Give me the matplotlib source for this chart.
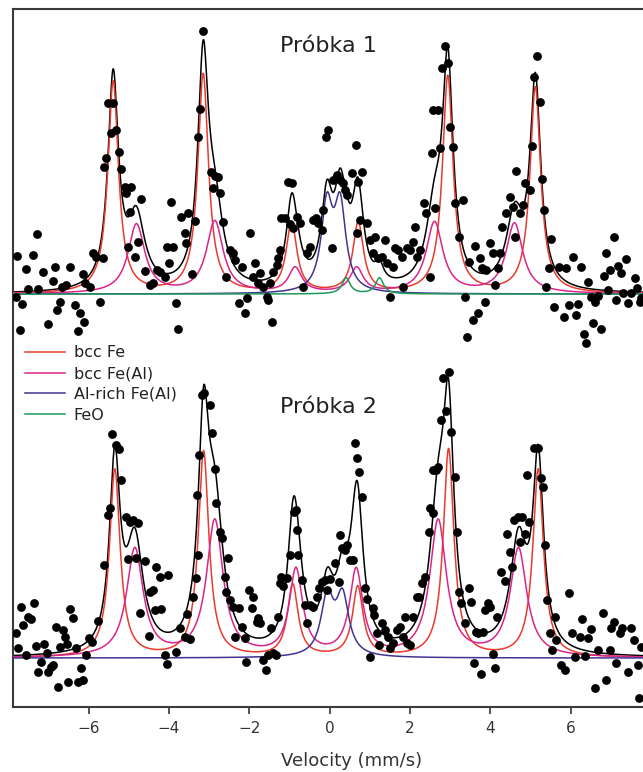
import numpy as np
import matplotlib
matplotlib.use("Agg")
import matplotlib.pyplot as plt

# measured points (velocity mm/s, absorption a.u. above baseline)
vel1 = [-7.82, -7.78, -7.70, -7.65, -7.57, -7.51, -7.39, -7.29, -7.26, -7.14, -7.01, -6.90, -6.85, -6.79,
        -6.72, -6.66, -6.56, -6.47, -6.35, -6.27, -6.22, -6.14, -6.12, -6.08, -5.96, -5.89, -5.81, -5.73,
        -5.64, -5.63, -5.56, -5.52, -5.44, -5.39, -5.31, -5.24, -5.19, -5.10, -5.06, -5.02, -4.98, -4.94,
        -4.85, -4.77, -4.69, -4.61, -4.48, -4.40, -4.31, -4.23, -4.11, -4.05, -4.00, -3.94, -3.90, -3.82,
        -3.78, -3.69, -3.61, -3.57, -3.53, -3.44, -3.36, -3.28, -3.24, -3.15, -2.95, -2.90, -2.86, -2.78,
        -2.74, -2.66, -2.57, -2.48, -2.40, -2.36, -2.27, -2.19, -2.11, -2.07, -1.98, -1.90, -1.86, -1.78,
        -1.74, -1.65, -1.57, -1.53, -1.49, -1.44, -1.40, -1.32, -1.28, -1.24, -1.20, -1.11, -1.03, -0.99,
        -0.95, -0.91, -0.82, -0.74, -0.66, -0.56, -0.49, -0.41, -0.33, -0.28, -0.20, -0.16, -0.09, -0.03,
        0.05, 0.09, 0.17, 0.26, 0.34, 0.38, 0.42, 0.55, 0.66, 0.67, 0.71, 0.75, 0.80, 0.92, 1.00, 1.09,
        1.13, 1.21, 1.29, 1.38, 1.42, 1.50, 1.58, 1.63, 1.71, 1.79, 1.83, 1.92, 2.00, 2.07, 2.12, 2.17,
        2.25, 2.35, 2.41, 2.50, 2.54, 2.58, 2.63, 2.70, 2.74, 2.80, 2.88, 2.94, 2.99, 3.07, 3.11, 3.21,
        3.32, 3.38, 3.43, 3.48, 3.57, 3.61, 3.69, 3.73, 3.78, 3.86, 3.90, 3.98, 4.07, 4.11, 4.19, 4.23,
        4.29, 4.40, 4.48, 4.56, 4.62, 4.65, 4.73, 4.81, 4.87, 4.98, 5.04, 5.09, 5.16, 5.24, 5.28, 5.34,
        5.39, 5.45, 5.52, 5.58, 5.72, 5.83, 5.89, 5.97, 6.06, 6.14, 6.18, 6.26, 6.33, 6.39, 6.43, 6.51,
        6.55, 6.60, 6.68, 6.76, 6.82, 6.89, 6.93, 6.99, 7.08, 7.14, 7.19, 7.24, 7.30, 7.38, 7.43, 7.51,
        7.61, 7.66, 7.72, 7.76]
abs1 = [-0.3, 3.8, -3.6, -1.0, 2.5, 0.5, 3.9, 6.0, 0.5, 2.2, -3.0, 1.3, 2.7, -1.6,
        -0.8, 0.7, 0.9, 2.7, -1.1, -3.7, -1.9, 2.0, -2.8, 1.1, 0.7, 4.1, 3.7, -0.8,
        3.6, 12.7, 13.6, 19.1, 16.1, 19.1, 16.4, 14.2, 12.5, 10.7, 10.1, 4.7, 8.2, 10.7,
        3.7, 5.2, 9.5, 2.3, 0.9, 1.1, 2.4, 2.2, 1.7, 4.7, 3.1, 9.2, 4.7, -0.9,
        -3.5, 7.7, 6.1, 5.1, 8.1, 2.0, 7.3, 15.7, 18.5, 26.3, 12.2, 10.6, 11.8, 11.7,
        10.1, 7.2, 1.7, 4.4, 4.1, 3.4, -0.9, 2.7, -1.9, -0.4, 6.1, 1.7, 3.1, 1.1,
        2.1, 0.7, -0.3, -0.6, 1.1, -2.8, 2.2, 2.9, 3.6, 4.4, 7.6, 7.6, 11.2, 7.0,
        11.1, 6.6, 7.7, 7.1, 0.7, 4.1, 4.7, 7.4, 7.6, 7.1, 6.4, 8.4, 15.7, 16.4,
        4.6, 11.4, 11.9, 11.4, 11.1, 10.4, 9.9, 12.1, 14.9, 6.1, 11.2, 7.4, 12.2, 7.1, 5.4, 4.1,
        5.7, 3.6, 3.7, 5.4, 3.1, -0.3, 2.7, 4.6, 4.4, 3.7, 0.7, 4.6, 4.4, 5.2, 6.7, 3.7,
        4.4, 9.1, 8.1, 1.7, 14.1, 18.4, 8.6, 18.4, 14.6, 22.6, 24.8, 23.1, 16.7, 14.7, 9.1, 5.7,
        9.4, -0.3, -4.3, 3.2, -2.6, 4.8, -1.9, 3.6, 2.6, -0.8, 2.4, 5.1, 4.1, 0.9, 2.6, 4.1,
        6.7, 8.1, 9.7, 8.7, 5.7, 12.3, 8.1, 8.9, 11.1, 10.4, 14.8, 21.7, 23.8, 19.2, 11.5, 8.4,
        0.7, 2.6, 5.5, -1.3, 2.7, -2.3, 2.6, -1.1, 3.7, -2.1, -1.0, 2.7, -4.0, -4.9, 1.2, -0.3,
        -2.9, -0.8, -0.2, -3.5, 1.8, 4.1, 0.4, 2.4, 5.7, -0.6, 2.8, 2.1, 0.1, 3.5, -0.9, 0.1,
        1.6, 0.6, -0.8, -0.4]

vel2 = [-7.80, -7.76, -7.68, -7.64, -7.55, -7.51, -7.43, -7.37, -7.32, -7.26, -7.18, -7.10, -7.05, -7.01,
        -6.93, -6.89, -6.82, -6.76, -6.71, -6.64, -6.60, -6.54, -6.51, -6.46, -6.39, -6.31, -6.27, -6.20,
        -6.14, -6.06, -5.98, -5.91, -5.77, -5.63, -5.52, -5.48, -5.41, -5.33, -5.25, -5.19, -5.06, -5.02,
        -4.96, -4.90, -4.81, -4.77, -4.73, -4.61, -4.48, -4.50, -4.40, -4.36, -4.32, -4.23, -4.19, -4.11,
        -4.05, -4.03, -3.83, -3.73, -3.61, -3.55, -3.48, -3.40, -3.34, -3.31, -3.28, -3.25, -3.19, -3.14,
        -2.99, -2.92, -2.86, -2.84, -2.74, -2.67, -2.61, -2.58, -2.52, -2.48, -2.40, -2.36, -2.27, -2.19,
        -2.11, -2.08, -2.00, -1.94, -1.90, -1.82, -1.78, -1.74, -1.65, -1.59, -1.53, -1.47, -1.40, -1.34,
        -1.28, -1.24, -1.20, -1.15, -1.07, -0.99, -0.89, -0.84, -0.82, -0.78, -0.70, -0.62, -0.56, -0.49,
        -0.41, -0.32, -0.26, -0.20, -0.12, -0.06, 0.01, 0.13, 0.22, 0.26, 0.30, 0.38, 0.42, 0.51,
        0.59, 0.63, 0.67, 0.74, 0.80, 0.88, 0.94, 1.00, 1.07, 1.10, 1.17, 1.24, 1.29, 1.38,
        1.46, 1.50, 1.58, 1.67, 1.75, 1.82, 1.88, 1.92, 2.00, 2.07, 2.17, 2.23, 2.29, 2.37,
        2.46, 2.50, 2.56, 2.58, 2.65, 2.70, 2.78, 2.82, 2.90, 2.96, 3.03, 3.11, 3.18, 3.21,
        3.26, 3.36, 3.46, 3.51, 3.59, 3.65, 3.69, 3.76, 3.82, 3.87, 3.94, 3.98, 4.07, 4.11,
        4.17, 4.26, 4.36, 4.42, 4.48, 4.54, 4.60, 4.69, 4.73, 4.80, 4.85, 4.92, 4.96, 5.09,
        5.19, 5.25, 5.31, 5.37, 5.42, 5.48, 5.53, 5.60, 5.64, 5.77, 5.85, 5.97, 6.03, 6.10,
        6.22, 6.28, 6.35, 6.43, 6.51, 6.60, 6.68, 6.80, 6.89, 6.97, 7.01, 7.08, 7.14, 7.22,
        7.28, 7.43, 7.51, 7.58, 7.68, 7.70, 7.76]
abs2 = [2.5, 1.0, 5.1, 3.3, 0.3, 4.1, 3.9, 5.5, 1.2, -1.4, -0.4, 1.4, 0.5, -1.4,
        -0.9, -0.7, 3.1, -2.9, 1.1, 2.8, 2.1, 1.4, -2.4, 4.9, 4.0, 1.0, -2.4, -1.0,
        -2.2, 0.3, 2.0, 1.6, 3.7, 9.3, 14.3, 15.0, 22.4, 21.3, 20.9, 17.8, 14.1, 9.9,
        13.6, 13.8, 10.0, 13.5, 4.5, 9.7, 6.6, 2.2, 6.8, 4.8, 9.1, 8.1, 4.9, 0.3,
        -0.6, 8.3, 0.6, 3.0, 2.1, 4.4, 1.9, 6.1, 8.0, 16.3, 10.3, 20.3, 26.3, 26.5,
        25.3, 22.5, 18.9, 15.5, 12.6, 12.0, 8.1, 6.6, 10.0, 5.8, 5.1, 2.1, 5.0, 3.1,
        2.0, -0.4, 6.8, 5.0, 6.1, 3.6, 4.0, 3.5, -0.2, -1.2, 0.3, 3.0, 0.5, 0.3,
        4.1, 7.5, 8.1, 7.2, 8.0, 10.3, 14.6, 14.8, 12.8, 10.3, 7.8, 5.3, 3.5, 5.3,
        5.1, 6.1, 7.0, 7.6, 7.8, 6.8, 7.9, 9.5, 7.6, 12.3, 11.0, 10.8, 11.3, 9.8,
        9.8, 21.5, 20.0, 18.6, 16.1, 7.0, 5.9, 0.1, 5.0, 4.3, 2.5, 1.3, 3.5, 2.8,
        2.1, 1.0, 1.5, 2.8, 3.1, 2.1, 4.1, 1.5, 1.3, 4.1, 6.1, 6.1, 7.5, 8.1,
        12.6, 15.0, 14.5, 18.8, 18.8, 19.1, 23.8, 28.0, 24.7, 28.6, 22.6, 18.1, 12.6, 6.6,
        5.5, 3.5, 7.0, 5.6, -0.5, 2.6, 2.5, -1.6, 2.6, 4.8, 5.5, 5.1, 0.4, -1.0,
        4.1, 8.6, 7.7, 12.4, 10.6, 9.1, 13.8, 14.1, 11.6, 14.1, 12.4, 18.3, 13.6, 21.0,
        21.0, 18.0, 17.1, 11.3, 5.8, 2.5, 0.8, 4.1, 1.8, -0.7, -1.2, 6.5, 2.5, 0.1,
        2.1, 3.9, 0.2, 2.0, 2.9, -3.0, 0.8, 4.5, -2.2, 0.8, 3.0, 3.6, -0.5, 2.5,
        3.0, -1.4, 3.0, 1.8, -0.7, -4.0, 1.1]

# fitted sub-spectra: line positions, depths, half widths
s1_fe_pos = [-5.39, -3.15, -0.95, 0.71, 2.94, 5.12]
s1_fe_amp = [21.2, 21.9, 7.0, 7.0, 21.7, 20.6]
s1_feal_pos = [-4.81, -2.86, -0.86, 0.67, 2.61, 4.60]
s1_feal_amp = [6.9, 7.2, 2.5, 2.5, 7.1, 7.0]
s1_alrich_pos = [-0.07, 0.26]
s1_alrich_amp = [8.4, 8.4]
s1_feo_pos = [0.41, 1.24]
s1_feo_amp = [1.6, 1.6]

s2_fe_pos = [-5.35, -3.14, -0.92, 0.70, 2.96, 5.19]
s2_fe_amp = [18.8, 20.6, 7.2, 7.0, 20.8, 18.8]
s2_feal_pos = [-4.85, -2.86, -0.84, 0.66, 2.70, 4.70]
s2_feal_amp = [10.8, 13.6, 8.6, 8.6, 13.6, 10.8]
s2_alrich_pos = [-0.06, 0.32]
s2_alrich_amp = [5.8, 5.8]

fe_hw = 0.16
feal_hw = [0.25, 0.25, 0.2, 0.2, 0.25, 0.25]
alrich_hw = [0.17, 0.19]
feo_hw = 0.12

offset1 = 36.4   # vertical shift of Próbka 1

labels = ["bcc Fe", "bcc Fe(Al)", "Al-rich Fe(Al)", "FeO"]
colors = ["#ea3a2e", "#d9258a", "#41348f", "#1c9a5c"]

v = np.linspace(-7.9, 7.9, 1600)


def lines(pos, amp, hw):
    hw = np.broadcast_to(hw, len(pos))
    out = np.zeros_like(v)
    for p, a, w in zip(pos, amp, hw):
        out += a / (1 + ((v - p) / w) ** 2)
    return out


c1 = [lines(s1_fe_pos, s1_fe_amp, fe_hw),
      lines(s1_feal_pos, s1_feal_amp, feal_hw),
      lines(s1_alrich_pos, s1_alrich_amp, alrich_hw[0]),
      lines(s1_feo_pos, s1_feo_amp, feo_hw)]
c2 = [lines(s2_fe_pos, s2_fe_amp, fe_hw),
      lines(s2_feal_pos, s2_feal_amp, feal_hw),
      lines(s2_alrich_pos, s2_alrich_amp, alrich_hw[1])]

fig = plt.figure(figsize=(6.43, 7.72), dpi=100)
ax = fig.add_axes([13 / 643, 65 / 772, 1 - 13 / 643, 698 / 772])

ax.plot(v, sum(c1) + offset1, color="black", lw=1.1, zorder=2)
ax.plot(v, sum(c2), color="black", lw=1.1, zorder=2)
for comp, col in zip(c1, colors):
    ax.plot(v, comp + offset1, color=col, lw=1.1, zorder=3)
for comp, col, lab in zip(c2, colors, labels):
    ax.plot(v, comp, color=col, lw=1.1, zorder=3, label=lab)
ax.plot([], [], color=colors[3], lw=1.1, label=labels[3])

ax.scatter(vel1, np.array(abs1) + offset1, s=40, color="black", zorder=5, linewidths=0)
ax.scatter(vel2, abs2, s=40, color="black", zorder=5, linewidths=0)

ax.text(-0.04, 61.2, "Próbka 1", ha="center", va="center", fontsize=16, color="#222222")
ax.text(-0.04, 25.1, "Próbka 2", ha="center", va="center", fontsize=16, color="#222222")

leg = ax.legend(loc="upper left", bbox_to_anchor=(0.019, 0.518), frameon=False,
                fontsize=11.5, handlelength=2.5, handletextpad=0.55, labelspacing=0.36,
                borderpad=0, borderaxespad=0)
for t in leg.get_texts():
    t.set_color("#222222")

ax.set_xlim(-7.884, 7.80)
ax.set_ylim(-4.9, 64.9)
ax.set_xticks([-6, -4, -2, 0, 2, 4, 6])
ax.set_yticks([])
ax.tick_params(axis="x", direction="out", length=5, width=1.2, colors="#333333",
               labelsize=11, pad=5)
for s in ["left", "top", "bottom"]:
    ax.spines[s].set_color("#3a3a3a")
    ax.spines[s].set_linewidth(1.5)
ax.spines["right"].set_visible(False)
ax.set_xlabel("Velocity (mm/s)", fontsize=13, color="#333333", va="center")
ax.xaxis.set_label_coords((352 - 13) / 630, -(761 - 707) / 698)

fig.savefig("out.png", dpi=100)
